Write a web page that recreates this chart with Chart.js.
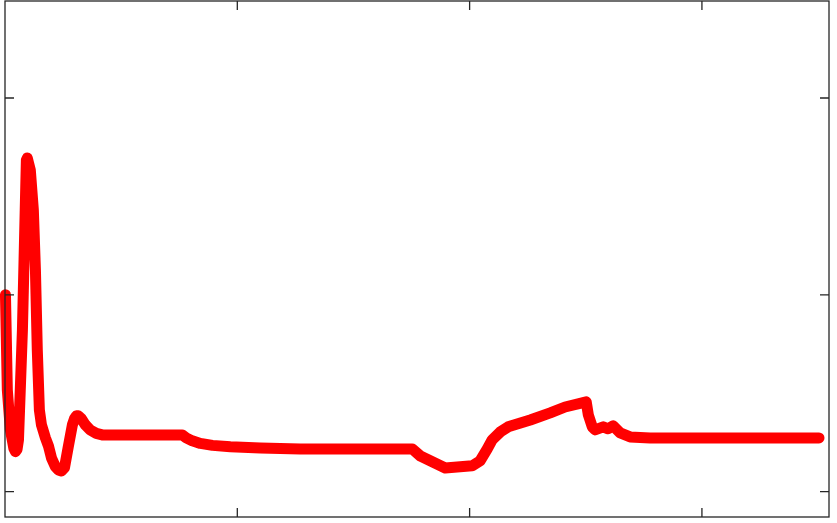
<!DOCTYPE html>
<html>
<head>
<meta charset="utf-8">
<script src="https://cdn.jsdelivr.net/npm/chart.js@4/dist/chart.umd.min.js"></script>
<style>
  html, body { margin: 0; padding: 0; background: #fff; }
  canvas { display: block; }
</style>
</head>
<body>
<canvas id="plot" width="837" height="523"></canvas>
<script>
// values (x in axis units, ticks at 1,2,3; y ticks at 0,1,2)
const xValues = [
  0.002, 0.010, 0.023, 0.038, 0.045, 0.052, 0.058, 0.075, 0.092, 0.096,
  0.109, 0.122, 0.131, 0.139, 0.148, 0.157, 0.174, 0.187, 0.200, 0.217,
  0.230, 0.243, 0.256, 0.273, 0.290, 0.299, 0.307, 0.316, 0.329, 0.346,
  0.367, 0.393, 0.419, 0.763, 0.780, 0.806, 0.841, 0.893, 0.970, 1.099,
  1.271, 1.753, 1.788, 1.895, 2.011, 2.045, 2.076, 2.097, 2.132, 2.166,
  2.261, 2.347, 2.411, 2.502, 2.511, 2.528, 2.540, 2.575, 2.596, 2.618,
  2.648, 2.691, 2.777, 3.504
];
const yValues = [
  1.000, 0.517, 0.314, 0.220, 0.203, 0.215, 0.263, 0.822, 1.685, 1.695,
  1.634, 1.431, 1.126, 0.720, 0.415, 0.339, 0.273, 0.232, 0.171, 0.126,
  0.110, 0.105, 0.121, 0.232, 0.339, 0.370, 0.385, 0.385, 0.370, 0.339,
  0.313, 0.296, 0.288, 0.288, 0.273, 0.258, 0.245, 0.235, 0.228, 0.222,
  0.217, 0.217, 0.181, 0.120, 0.131, 0.156, 0.217, 0.263, 0.303, 0.329,
  0.364, 0.400, 0.430, 0.456, 0.390, 0.329, 0.314, 0.329, 0.319, 0.334,
  0.298, 0.278, 0.273, 0.273
];
const xTicks = [1, 2, 3];
const yTicks = [0, 1, 2];

const AXIS_COLOR = "#262626";
const TICK_LEN = 9;

// MATLAB-style box with inward ticks on all four sides
const boxAxes = {
  id: "boxAxes",
  afterDatasetsDraw(chart) {
    const { ctx, chartArea: a, scales } = chart;
    ctx.save();
    ctx.strokeStyle = AXIS_COLOR;
    ctx.lineWidth = 1.3;
    ctx.strokeRect(a.left, a.top, a.right - a.left, a.bottom - a.top);
    ctx.beginPath();
    xTicks.forEach(t => {
      const px = scales.x.getPixelForValue(t);
      ctx.moveTo(px, a.bottom); ctx.lineTo(px, a.bottom - TICK_LEN);
      ctx.moveTo(px, a.top); ctx.lineTo(px, a.top + TICK_LEN);
    });
    yTicks.forEach(t => {
      const py = scales.y.getPixelForValue(t);
      ctx.moveTo(a.left, py); ctx.lineTo(a.left + TICK_LEN, py);
      ctx.moveTo(a.right, py); ctx.lineTo(a.right - TICK_LEN, py);
    });
    ctx.stroke();
    ctx.restore();
  }
};

new Chart(document.getElementById("plot"), {
  type: "line",
  data: {
    datasets: [{
      data: xValues.map((x, i) => ({ x, y: yValues[i] })),
      borderColor: "#ff0000",
      borderWidth: 11,
      borderCapStyle: "round",
      borderJoinStyle: "round",
      pointRadius: 0,
      tension: 0,
      fill: false,
      clip: false
    }]
  },
  options: {
    responsive: false,
    animation: false,
    layout: { padding: { left: 5, top: 1, right: 8, bottom: 6 } },
    plugins: { legend: { display: false }, tooltip: { enabled: false } },
    scales: {
      x: { type: "linear", min: 0, max: 3.547, display: false },
      y: { type: "linear", min: -0.129, max: 2.493, display: false }
    }
  },
  plugins: [boxAxes]
});
</script>
</body>
</html>
